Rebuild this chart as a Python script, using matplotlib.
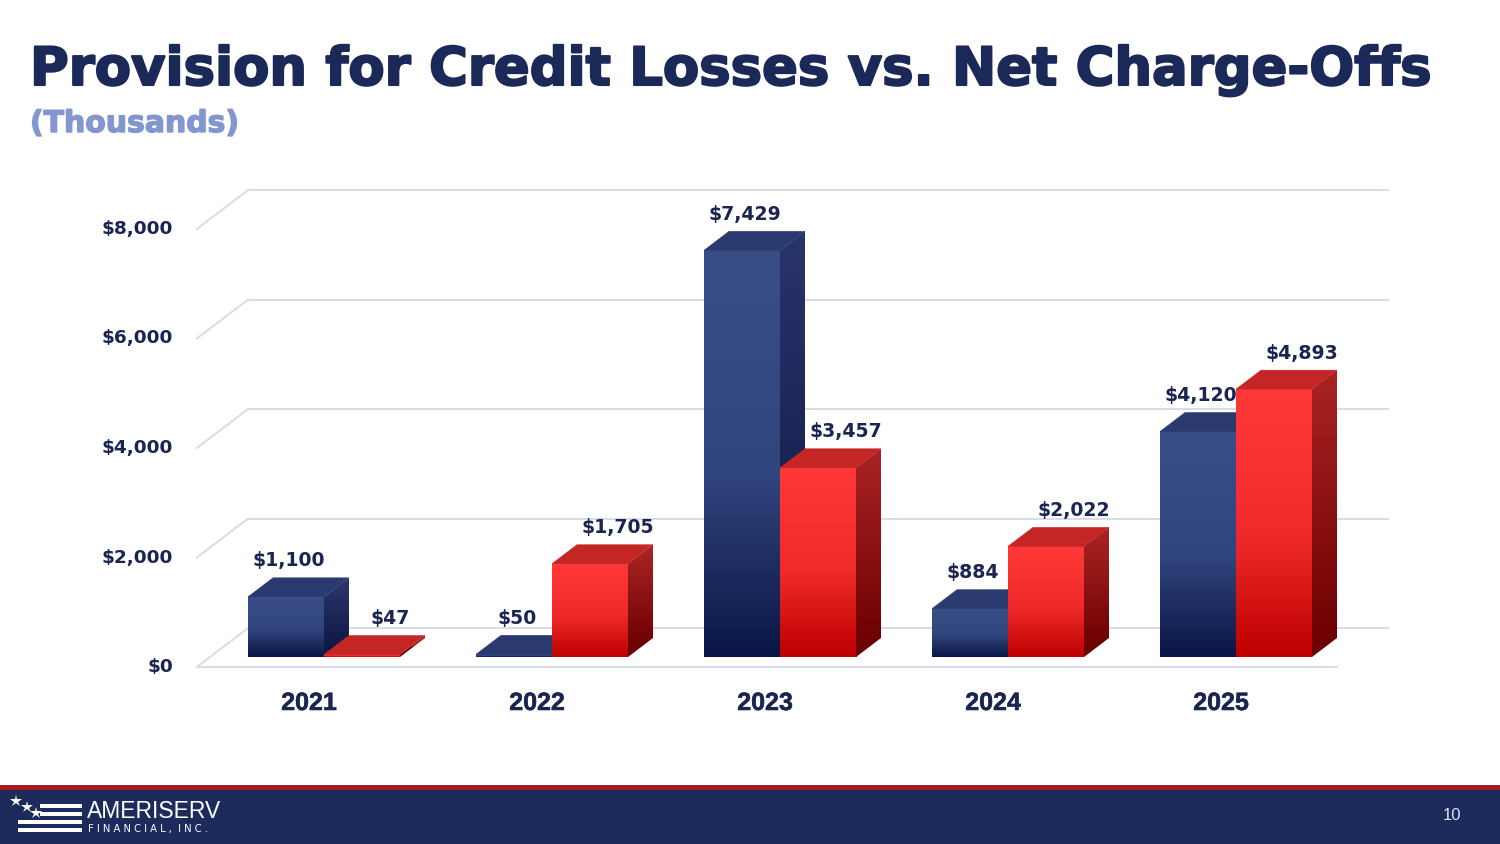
import numpy as np
import matplotlib
matplotlib.use('Agg')
import matplotlib.pyplot as plt
import matplotlib.patheffects as pe
from matplotlib.patches import Polygon, Rectangle
from matplotlib.transforms import Affine2D, IdentityTransform
from matplotlib.colors import to_rgb

# ---------------- data ----------------
years = ['2021', '2022', '2023', '2024', '2025']
provision = [1100, 50, 7429, 884, 4120]          # Provision for credit losses
charge_offs = [47, 1705, 3457, 2022, 4893]       # Net charge-offs
tick_values = [0, 2000, 4000, 6000, 8000]
tick_labels = ['$0', '$2,000', '$4,000', '$6,000', '$8,000']
title = 'Provision for Credit Losses vs. Net Charge-Offs'
subtitle = '(Thousands)'

# ---------------- layout ----------------
W, H, DPI = 1500, 844, 100
fig = plt.figure(figsize=(W / DPI, H / DPI), dpi=DPI, facecolor='white')

group_px = 228.0
zero_x_px = 324.0
zero_y_px = 657.0
px_per_unit = 54.75 / 1000.0
xlim = (-0.6, 4.6)
ylim = (-1000, 9000)
left = zero_x_px + group_px * xlim[0]
right = zero_x_px + group_px * xlim[1]
top_img = zero_y_px - px_per_unit * ylim[1]
bot_img = zero_y_px - px_per_unit * ylim[0]

bg = fig.add_axes([0, 0, 1, 1], zorder=-5)
bg.set_xlim(0, W); bg.set_ylim(H, 0); bg.axis('off')

ax = fig.add_axes([left / W, (H - bot_img) / H, (right - left) / W, (bot_img - top_img) / H])
ax.set_xlim(xlim); ax.set_ylim(ylim); ax.axis('off')
ax.autoscale(False)

K = 25.0 / 19.0      # horizontal shift per vertical px of depth
D = 19.0             # bar depth (vertical px)
BACK = 29.0          # back wall depth
FRONT = -10.0        # floor front edge depth
bar_w = 76.0 / group_px

def off(dx, dy):
    return ax.transData + Affine2D().translate(dx, dy)

def disp(x, y, d):
    p = ax.transData.transform((x, y))
    return (p[0] + K * d, p[1] + d)

grid_c = '#d9dce8'
text_c = '#1b2552'

# ---------------- grid / walls ----------------
for v in tick_values:
    ax.plot([-0.5, 4.5], [v, v], transform=off(K * BACK, BACK), color=grid_c, lw=1.4,
            clip_on=False, zorder=1)
    p0 = disp(-0.5, v, FRONT); p1 = disp(-0.5, v, BACK)
    ax.plot([p0[0], p1[0]], [p0[1], p1[1]], transform=IdentityTransform(), color=grid_c,
            lw=1.4, clip_on=False, zorder=1)
ax.plot([-0.5, 4.5], [0, 0], transform=off(K * FRONT, FRONT), color=grid_c, lw=1.4,
        clip_on=False, zorder=1)

for v, lab in zip(tick_values, tick_labels):
    ax.text(-0.5, v, lab, transform=off(K * FRONT - 24, FRONT), ha='right', va='center',
            fontsize=13.3, fontweight='bold', family='DejaVu Sans', color=text_c, clip_on=False)

# ---------------- bars ----------------
def lerp(c0, c1, t):
    a = np.array(to_rgb(c0)); b = np.array(to_rgb(c1))
    return a + (b - a) * t

def grad3(top, mid, bot, t, split=0.55):
    if t < split:
        return lerp(top, mid, t / split)
    return lerp(mid, bot, (t - split) / (1 - split))

styles = {
    'blue': dict(front=('#394d87', '#31457d', '#0a1546'), side=('#28346b', '#0e1843'),
                 top='#2b3a6e', dx=3),
    'red': dict(front=('#ff3838', '#f02a2a', '#bd0000'), side=('#a82222', '#6c0000'),
                top='#c42626', dx=28),
}

NG = 256
dx_data = K * D / group_px
dy_data = D / px_per_unit
z = 5

def draw_bar(x0, x1, v, st):
    global z
    # front face (vertical gradient)
    ts = np.linspace(0, 1, NG)
    img = np.array([grad3(*st['front'], t) for t in ts])[:, None, :]
    ax.imshow(img, extent=(x0, x1, 0, v), aspect='auto', origin='upper',
              interpolation='bilinear', zorder=z)
    # side face (clipped gradient)
    ys = np.linspace(v + dy_data, 0, NG)
    tside = np.clip(1 - (ys - dy_data / 2) / max(v, 1e-9), 0, 1)
    img2 = np.array([lerp(*st['side'], t) for t in tside])[:, None, :]
    side_pts = [disp(x1, 0, 0), disp(x1, v, 0), disp(x1, v, D), disp(x1, 0, D)]
    side_poly = Polygon(side_pts, closed=True, transform=IdentityTransform(),
                        facecolor='none', edgecolor='none')
    im2 = ax.imshow(img2, extent=(x1, x1 + dx_data, 0, v + dy_data), aspect='auto',
                    origin='upper', interpolation='bilinear', zorder=z)
    im2.set_clip_path(side_poly)
    # top face
    pts = [disp(x0, v, 0), disp(x1, v, 0), disp(x1, v, D), disp(x0, v, D)]
    ax.add_patch(Polygon(pts, closed=True, transform=IdentityTransform(), facecolor=st['top'],
                         edgecolor=st['top'], lw=0.3, zorder=z + 0.5, clip_on=False))
    z += 1
    ax.text((x0 + x1) / 2, v, f'${v:,}', transform=off(st['dx'], 36), ha='center',
            va='center', fontsize=13.6, fontweight='bold', family='DejaVu Sans',
            color=text_c, zorder=50, clip_on=False)

for i, (pv, co) in enumerate(zip(provision, charge_offs)):
    draw_bar(i - bar_w, i, pv, styles['blue'])
    draw_bar(i, i + bar_w, co, styles['red'])
    ax.text(i, 0, years[i], transform=off(-15, -46), ha='center', va='center',
            fontsize=18, fontweight='bold', family='Liberation Sans', color=text_c,
            clip_on=False,
            path_effects=[pe.withStroke(linewidth=0.4, foreground=text_c)])

ax.set_xlim(xlim); ax.set_ylim(ylim)

# ---------------- titles ----------------
renderer = fig.canvas.get_renderer()
t1 = fig.text(30 / W, (H - 85) / H, title, fontsize=38, fontweight='bold',
              family='DejaVu Sans', color='#1b2959', ha='left', va='baseline',
              path_effects=[pe.withStroke(linewidth=1.5, foreground='#1b2959')])
bb = t1.get_window_extent(renderer)
t1.set_fontsize(38 * 1400.0 / bb.width)
t2 = fig.text(30 / W, (H - 132) / H, subtitle, fontsize=21, fontweight='bold',
              family='DejaVu Sans', color='#8396cf', ha='left', va='baseline',
              path_effects=[pe.withStroke(linewidth=1.0, foreground='#8396cf')])
bb = t2.get_window_extent(renderer)
t2.set_fontsize(21 * 209.0 / bb.width)

# ---------------- footer ----------------
bg.add_patch(Rectangle((0, 785), W, 6, facecolor='#a31a24', edgecolor='none'))
bg.add_patch(Rectangle((0, 790), W, 54, facecolor='#1c2a5c', edgecolor='none'))
for (x0, y0, x1) in [(40, 803.5, 82), (40, 811.5, 82), (18, 819.5, 82), (18, 827.5, 82)]:
    bg.add_patch(Rectangle((x0, y0), x1 - x0, 4.2, facecolor='white', edgecolor='none'))
bg.plot([16, 27, 36], [801, 807, 813], linestyle='none', marker='*', color='white',
        markersize=9, markeredgewidth=0)
bg.text(87, 818.5, 'AMERISERV', fontsize=16.5, family='Liberation Sans', color='white',
        ha='left', va='baseline')
bg.text(88, 832, 'F I N A N C I A L ,  I N C .', fontsize=7.2, family='DejaVu Sans',
        color='white', ha='left', va='baseline')
bg.text(1452, 816, '10', fontsize=12, family='Liberation Sans', color='#dde3f2',
        ha='center', va='center')

fig.savefig('out.png', dpi=DPI, facecolor='white')
